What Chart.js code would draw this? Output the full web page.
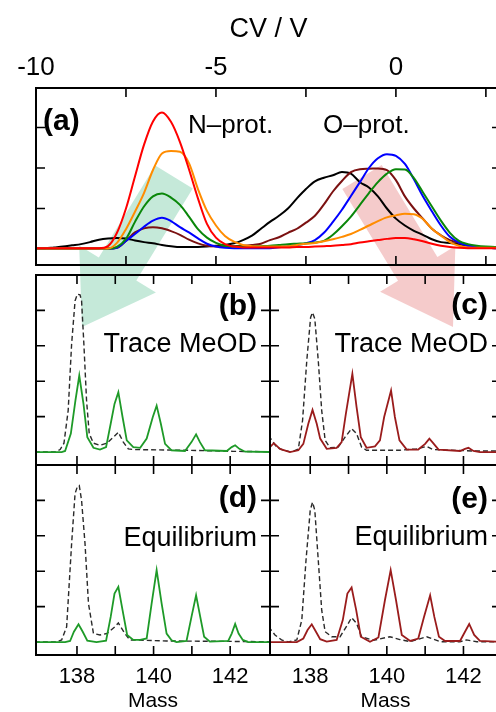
<!DOCTYPE html>
<html>
<head>
<meta charset="utf-8">
<script src="https://cdn.jsdelivr.net/npm/chart.js@4.4.1/dist/chart.umd.min.js"></script>
<style>
  html, body { margin: 0; padding: 0; background: #fff; overflow: hidden; }
  #wrap { position: relative; width: 496px; height: 712px; overflow: hidden; }
  #wrap canvas { position: absolute; left: 0; }
</style>
</head>
<body>
<div id="wrap">
  <canvas id="arrows" width="496" height="712" style="top:0"></canvas>
  <canvas id="panelA" width="506" height="270" style="top:0"></canvas>
  <canvas id="panelB" width="506" height="200" style="top:270px"></canvas>
  <canvas id="panelC" width="506" height="200" style="top:270px"></canvas>
  <canvas id="panelD" width="506" height="247" style="top:465px"></canvas>
  <canvas id="panelE" width="506" height="247" style="top:465px"></canvas>
</div>
<script>
// ---- panel (a): CV scans ----
const CV = [-10, -9.75, -9.5, -9.25, -9, -8.75, -8.5, -8.25, -8, -7.75, -7.5, -7.25, -7, -6.75, -6.5, -6.25,
  -6, -5.75, -5.5, -5.25, -5, -4.75, -4.5, -4.25, -4, -3.75, -3.5, -3.25, -3, -2.75, -2.5, -2.25,
  -2, -1.75, -1.5, -1.25, -1, -0.75, -0.5, -0.25, 0, 0.25, 0.5, 0.75, 1, 1.25, 1.5, 1.75, 2, 2.25, 2.5, 2.75, 3];

const CV_RED = [0.02, 0.02, 0.02, 0.02, 0.02, 0.02, 0.02, 0.02, 0.07, 0.4, 1.0, 1.79, 2.57, 3.15, 3.37, 3.14,
  2.64, 1.97, 1.25, 0.62, 0.28, 0.12, 0.06, 0.04, 0.04, 0.04, 0.04, 0.04, 0.04, 0.05, 0.05, 0.06,
  0.07, 0.08, 0.1, 0.12, 0.16, 0.19, 0.22, 0.25, 0.27, 0.27, 0.24, 0.19, 0.13, 0.08, 0.05, 0.03, 0.02, 0.02, 0.02, 0.02, 0.02];
const CV_ORANGE = [0.01, 0.01, 0.01, 0.01, 0.01, 0.01, 0.01, 0.01, 0.01, 0.15, 0.49, 0.92, 1.38, 1.95, 2.36, 2.42,
  2.4, 2.12, 1.48, 0.94, 0.58, 0.32, 0.18, 0.1, 0.07, 0.06, 0.06, 0.06, 0.07, 0.1, 0.13, 0.15,
  0.19, 0.24, 0.3, 0.37, 0.47, 0.58, 0.69, 0.78, 0.83, 0.87, 0.86, 0.74, 0.5, 0.33, 0.17, 0.08, 0.04, 0.03, 0.03, 0.03, 0.03];
const CV_GREEN = [0.01, 0.01, 0.01, 0.01, 0.01, 0.01, 0.01, 0.01, 0.01, 0.05, 0.25, 0.67, 1.05, 1.3, 1.37, 1.27,
  1.09, 0.8, 0.49, 0.28, 0.15, 0.08, 0.06, 0.06, 0.06, 0.07, 0.08, 0.1, 0.12, 0.13, 0.14, 0.16,
  0.2, 0.35, 0.56, 0.8, 1.09, 1.38, 1.65, 1.86, 1.97, 1.96, 1.75, 1.4, 1.05, 0.7, 0.4, 0.2, 0.12, 0.08, 0.06, 0.05, 0.05];
const CV_BLUE = [0.01, 0.01, 0.01, 0.01, 0.01, 0.01, 0.01, 0.01, 0.01, 0.03, 0.2, 0.37, 0.55, 0.7, 0.77, 0.69,
  0.54, 0.41, 0.26, 0.13, 0.06, 0.03, 0.02, 0.02, 0.02, 0.02, 0.02, 0.04, 0.07, 0.1, 0.14, 0.22,
  0.4, 0.67, 0.97, 1.31, 1.65, 2.0, 2.24, 2.34, 2.3, 2.1, 1.72, 1.3, 0.93, 0.58, 0.3, 0.16, 0.08, 0.05, 0.03, 0.02, 0.02];
const CV_BROWN = [0.01, 0.01, 0.01, 0.01, 0.01, 0.01, 0.01, 0.01, 0.01, 0.03, 0.2, 0.41, 0.51, 0.54, 0.51, 0.44,
  0.35, 0.23, 0.14, 0.08, 0.06, 0.06, 0.07, 0.08, 0.1, 0.13, 0.22, 0.29, 0.4, 0.5, 0.65, 0.82,
  1.1, 1.42, 1.68, 1.9, 1.97, 1.98, 1.99, 1.95, 1.7, 1.3, 1.0, 0.75, 0.5, 0.34, 0.22, 0.15, 0.09, 0.05, 0.03, 0.02, 0.02];
const CV_BLACK = [0.02, 0.02, 0.04, 0.06, 0.09, 0.12, 0.17, 0.23, 0.26, 0.27, 0.26, 0.21, 0.17, 0.14, 0.1, 0.07,
  0.05, 0.05, 0.05, 0.06, 0.08, 0.1, 0.14, 0.22, 0.33, 0.5, 0.67, 0.82, 1.0, 1.25, 1.48, 1.67,
  1.76, 1.82, 1.9, 1.86, 1.65, 1.52, 1.3, 1.0, 0.75, 0.58, 0.45, 0.35, 0.24, 0.17, 0.15, 0.12, 0.08, 0.05, 0.04, 0.03, 0.03];

const CV_TICKS = [-10, -7.5, -5, -2.5, 0, 2.5];
const CV_LABELS = ['-10', '', '-5', '', '0', ''];
const A_Y_TICKS = [1, 2, 3];

// ---- panels (b)-(e): mass spectra, [mass, intensity] ----
const MASS_TICKS = [138, 139, 140, 141, 142];
const MASS_LABELS = ['138', '', '140', '', '142'];
const SPEC_Y_TICKS = [1, 2, 3, 4];

const B_SOLID = [[136.9, 0], [137.6, 0], [137.69, 0.03], [137.84, 0.52], [137.96, 1.46], [138.06, 2.16], [138.17, 1.36],
  [138.27, 0.42], [138.43, 0.12], [138.6, 0.07], [138.76, 0.14], [138.88, 0.8], [138.98, 1.36], [139.08, 1.69],
  [139.19, 0.99], [139.3, 0.33], [139.47, 0.14], [139.65, 0.12], [139.82, 0.38], [139.98, 0.99], [140.08, 1.31],
  [140.19, 0.8], [140.3, 0.23], [140.47, 0.05], [140.82, 0.03], [140.99, 0.28], [141.11, 0.5], [141.21, 0.28],
  [141.34, 0.05], [141.91, 0.03], [142.04, 0.14], [142.13, 0.19], [142.24, 0.09], [142.39, 0.01], [143.1, 0]];
const B_REF = [[136.9, 0], [137.43, 0], [137.56, 0.07], [137.66, 0.25], [137.77, 1.17], [137.86, 3.05], [137.95, 4.27],
  [138.01, 4.46], [138.08, 4.44], [138.12, 4.27], [138.18, 3.05], [138.25, 1.46], [138.32, 0.52], [138.43, 0.25],
  [138.6, 0.19], [138.78, 0.25], [138.95, 0.42], [139.08, 0.56], [139.21, 0.28], [139.34, 0.09], [139.47, 0.07],
  [140.86, 0.05], [142.08, 0.02], [143.1, 0.01]];

const C_SOLID = [[136.9, 0.1], [136.95, 0.14], [137.05, 0.25], [137.21, 0.09], [137.47, 0], [137.69, 0.05], [137.82, 0.23],
  [137.95, 0.8], [138.06, 1.19], [138.17, 0.8], [138.26, 0.38], [138.43, 0.09], [138.69, 0.12], [138.82, 0.28],
  [138.93, 1.08], [139.1, 2.21], [139.21, 1.27], [139.32, 0.42], [139.47, 0.12], [139.69, 0.16], [139.82, 0.33],
  [139.93, 0.99], [140.11, 1.74], [140.21, 0.99], [140.33, 0.33], [140.52, 0.07], [140.82, 0.07], [141.0, 0.23],
  [141.11, 0.38], [141.21, 0.25], [141.35, 0.07], [141.91, 0.03], [142.04, 0.09], [142.13, 0.12], [142.26, 0.03],
  [142.43, 0], [143.1, 0]];
const C_REF = [[136.9, 0.45], [136.97, 0.38], [137.12, 0.14], [137.3, 0.05], [137.52, 0], [137.69, 0.09], [137.8, 0.89],
  [137.91, 2.58], [138.01, 3.8], [138.06, 3.94], [138.12, 3.76], [138.21, 2.58], [138.3, 1.17], [138.39, 0.33],
  [138.52, 0.12], [138.73, 0.14], [138.91, 0.42], [139.08, 0.66], [139.21, 0.52], [139.34, 0.14], [139.47, 0.05],
  [140.34, 0.05], [140.78, 0.09], [141.04, 0.16], [141.21, 0.07], [142.26, 0.03], [143.1, 0.03]];

const D_SOLID = [[136.9, 0], [137.69, 0], [137.82, 0.03], [137.92, 0.29], [138.04, 0.5], [138.15, 0.29], [138.27, 0.04],
  [138.51, 0], [138.76, 0.04], [138.88, 0.71], [138.98, 1.37], [139.08, 1.56], [139.19, 0.9], [139.31, 0.2],
  [139.47, 0.06], [139.65, 0.06], [139.82, 0.1], [139.95, 1.09], [140.08, 2.03], [140.21, 1.09], [140.34, 0.24],
  [140.47, 0.05], [140.6, 0], [140.86, 0.03], [140.99, 0.71], [141.11, 1.32], [141.21, 0.76], [141.32, 0.15],
  [141.47, 0.01], [141.95, 0.03], [142.04, 0.24], [142.13, 0.51], [142.22, 0.24], [142.33, 0.06], [142.47, 0], [143.1, 0]];
const D_REF = [[136.9, 0], [137.47, 0], [137.6, 0.06], [137.73, 0.43], [137.86, 2.78], [137.95, 4.19], [138.01, 4.39],
  [138.06, 4.42], [138.12, 4.0], [138.21, 2.78], [138.3, 1.09], [138.43, 0.24], [138.6, 0.2], [138.78, 0.24],
  [138.99, 0.43], [139.08, 0.54], [139.25, 0.24], [139.38, 0.06], [140.34, 0.03], [143.1, 0.01]];

const E_SOLID = [[136.9, 0], [137.65, 0], [137.82, 0.1], [137.93, 0.34], [138.04, 0.5], [138.15, 0.29], [138.26, 0.08],
  [138.43, 0.01], [138.69, 0.06], [138.85, 0.62], [138.97, 1.37], [139.08, 1.54], [139.2, 0.9], [139.32, 0.15],
  [139.56, 0.01], [139.78, 0.13], [139.95, 1.18], [140.1, 2.03], [140.24, 1.18], [140.39, 0.2], [140.61, 0.03],
  [140.82, 0.1], [140.97, 0.71], [141.13, 1.32], [141.24, 0.71], [141.36, 0.15], [141.52, 0.03], [141.91, 0.03],
  [142.04, 0.29], [142.15, 0.51], [142.28, 0.2], [142.43, 0.03], [143.1, 0]];
const E_REF = [[136.9, 0.42], [136.95, 0.38], [137.08, 0.2], [137.25, 0.06], [137.43, 0], [137.65, 0.06], [137.78, 0.62],
  [137.89, 2.31], [138.0, 3.72], [138.06, 3.95], [138.12, 3.72], [138.21, 2.31], [138.3, 0.9], [138.39, 0.29],
  [138.56, 0.15], [138.78, 0.15], [138.97, 0.48], [139.08, 0.69], [139.21, 0.53], [139.34, 0.15], [139.65, 0.05],
  [140.08, 0.15], [140.34, 0.07], [140.61, 0.01], [141.04, 0.15], [141.39, 0.01], [141.91, 0.01], [142.08, 0.06],
  [142.35, 0.01], [143.1, 0.01]];

const FONT = "'Liberation Sans', Arial, Helvetica, sans-serif";
Chart.defaults.font.family = FONT;
Chart.defaults.color = '#000';
const TICK = 9;

// frame, inward ticks and panel texts
const framePlugin = {
  id: 'frame',
  afterDatasetsDraw(chart, args, opts) {
    const { ctx, chartArea: a, scales: { x, y } } = chart;
    ctx.save();
    ctx.strokeStyle = '#000';
    ctx.lineWidth = 1.6;
    ctx.beginPath();
    opts.xTicks.forEach(v => {
      const px = x.getPixelForValue(v);
      ctx.moveTo(px, a.top); ctx.lineTo(px, a.top + TICK);
      ctx.moveTo(px, a.bottom); ctx.lineTo(px, a.bottom - TICK);
    });
    opts.yTicks.forEach(v => {
      const py = y.getPixelForValue(v);
      ctx.moveTo(a.left, py); ctx.lineTo(a.left + TICK, py);
      ctx.moveTo(a.right, py); ctx.lineTo(a.right - TICK, py);
    });
    ctx.stroke();
    ctx.lineWidth = 2;
    ctx.strokeRect(a.left, a.top, a.right - a.left, a.bottom - a.top);
    ctx.fillStyle = '#000';
    ctx.textBaseline = 'alphabetic';
    (opts.labels || []).forEach(l => {
      ctx.font = l.font;
      ctx.textAlign = l.align;
      const px = l.align === 'right' ? a.right - l.dx : a.left + l.dx;
      ctx.fillText(l.text, px, a.top + l.dy);
    });
    ctx.restore();
  }
};

function line(data, color, width, dash) {
  return {
    data, borderColor: color, borderWidth: width, borderDash: dash || [],
    pointRadius: 0, fill: false, tension: 0
  };
}

function baseOptions(padding, xScale, yMin, yMax, frame) {
  return {
    responsive: false, animation: false, devicePixelRatio: 1, events: [],
    layout: { padding },
    plugins: { legend: { display: false }, tooltip: { enabled: false }, frame },
    scales: {
      x: xScale,
      y: { type: 'linear', display: false, min: yMin, max: yMax }
    }
  };
}

// panel (a)
const cvSeries = [
  [CV_RED, '#ff0000'], [CV_ORANGE, '#ff8c00'], [CV_GREEN, '#0a870a'],
  [CV_BLUE, '#0000ff'], [CV_BROWN, '#7b1111'], [CV_BLACK, '#000000']
];
new Chart(document.getElementById('panelA'), {
  type: 'line',
  plugins: [framePlugin],
  data: {
    datasets: cvSeries.map(([vals, color]) => ({
      ...line(CV.map((c, i) => ({ x: c, y: vals[i] })), color, 2),
      cubicInterpolationMode: 'monotone'
    }))
  },
  options: baseOptions({ left: 36, right: 5, top: 0, bottom: 5 }, {
    type: 'linear', position: 'top', min: -10, max: 2.92,
    afterBuildTicks: s => { s.ticks = CV_TICKS.map(v => ({ value: v })); },
    afterFit: s => { s.height = 88; },
    grid: { display: false, drawTicks: false }, border: { display: false },
    ticks: { autoSkip: false, maxRotation: 0, padding: 7, font: { size: 26, lineHeight: 1 },
      callback: (v, i) => CV_LABELS[i] },
    title: { display: true, text: 'CV / V', font: { size: 27, lineHeight: 1 }, padding: { top: 16, bottom: 0 } }
  }, -0.395, 3.975, {
    xTicks: CV_TICKS.slice(1), yTicks: A_Y_TICKS,
    labels: [
      { text: '(a)', font: `bold 30px ${FONT}`, align: 'left', dx: 7, dy: 42 },
      { text: 'N\u2013prot.', font: `26px ${FONT}`, align: 'left', dx: 152, dy: 45 },
      { text: 'O\u2013prot.', font: `26px ${FONT}`, align: 'left', dx: 287, dy: 45 }
    ]
  })
});

// panels (b)-(e)
function spectrum(id, padding, xMin, xMax, solid, ref, color, labels, showAxis) {
  const xScale = {
    type: 'linear', min: xMin, max: xMax, display: showAxis, position: 'bottom',
    afterBuildTicks: s => { s.ticks = MASS_TICKS.map(v => ({ value: v })); },
    afterFit: s => { s.height = showAxis ? 57 : 0; },
    grid: { display: false, drawTicks: false }, border: { display: false },
    ticks: { autoSkip: false, maxRotation: 0, padding: 11, font: { size: 22, lineHeight: 1 },
      callback: (v, i) => MASS_LABELS[i] },
    title: { display: true, text: 'Mass', font: { size: 21, lineHeight: 1 }, padding: { top: 0, bottom: 0 } }
  };
  new Chart(document.getElementById(id), {
    type: 'line',
    plugins: [framePlugin],
    data: { datasets: [line(solid, color, 1.8), line(ref, '#2a2a2a', 1.4, [5, 3])] },
    options: baseOptions(padding, xScale, -0.366, 5, { xTicks: MASS_TICKS, yTicks: SPEC_Y_TICKS, labels })
  });
}

const SPEC_GREEN = '#1e9a28';
const SPEC_BROWN = '#9a1c1c';
const lbl = (tag, text, d1, d2) => [
  { text: tag, font: `bold 30px ${FONT}`, align: 'right', dx: 13, dy: d1 },
  { text, font: `27px ${FONT}`, align: 'right', dx: 13, dy: d2 }
];

spectrum('panelB', { left: 36, right: 236, top: 5, bottom: 5 }, 136.93, 143.04, B_SOLID, B_REF, SPEC_GREEN,
  lbl('(b)', 'Trace MeOD', 40, 77), false);
spectrum('panelC', { left: 270, right: 5, top: 5, bottom: 5 }, 136.95, 142.98, C_SOLID, C_REF, SPEC_BROWN,
  lbl('(c)', 'Trace MeOD', 39, 77), false);
spectrum('panelD', { left: 36, right: 236, top: 0, bottom: 0 }, 136.93, 143.04, D_SOLID, D_REF, SPEC_GREEN,
  lbl('(d)', 'Equilibrium', 42, 81), true);
spectrum('panelE', { left: 270, right: 5, top: 0, bottom: 0 }, 136.95, 142.98, E_SOLID, E_REF, SPEC_BROWN,
  lbl('(e)', 'Equilibrium', 43, 80), true);

// translucent arrows behind the panels
function drawArrow(ctx, tail, tip, shaftW, headW, headL, color) {
  const dx = tip[0] - tail[0], dy = tip[1] - tail[1];
  const len = Math.hypot(dx, dy);
  const ux = dx / len, uy = dy / len, nx = -uy, ny = ux;
  const bx = tip[0] - ux * headL, by = tip[1] - uy * headL;
  ctx.beginPath();
  ctx.moveTo(tail[0] + nx * shaftW / 2, tail[1] + ny * shaftW / 2);
  ctx.lineTo(bx + nx * shaftW / 2, by + ny * shaftW / 2);
  ctx.lineTo(bx + nx * headW / 2, by + ny * headW / 2);
  ctx.lineTo(tip[0], tip[1]);
  ctx.lineTo(bx - nx * headW / 2, by - ny * headW / 2);
  ctx.lineTo(bx - nx * shaftW / 2, by - ny * shaftW / 2);
  ctx.lineTo(tail[0] - nx * shaftW / 2, tail[1] - ny * shaftW / 2);
  ctx.closePath();
  ctx.fillStyle = color;
  ctx.fill();
}
const actx = document.getElementById('arrows').getContext('2d');
drawArrow(actx, [174, 177], [82, 327], 44, 90, 68, 'rgba(110, 200, 160, 0.4)');
drawArrow(actx, [362, 177], [453, 327], 46, 88, 68, 'rgba(228, 110, 110, 0.36)');
</script>
</body>
</html>
